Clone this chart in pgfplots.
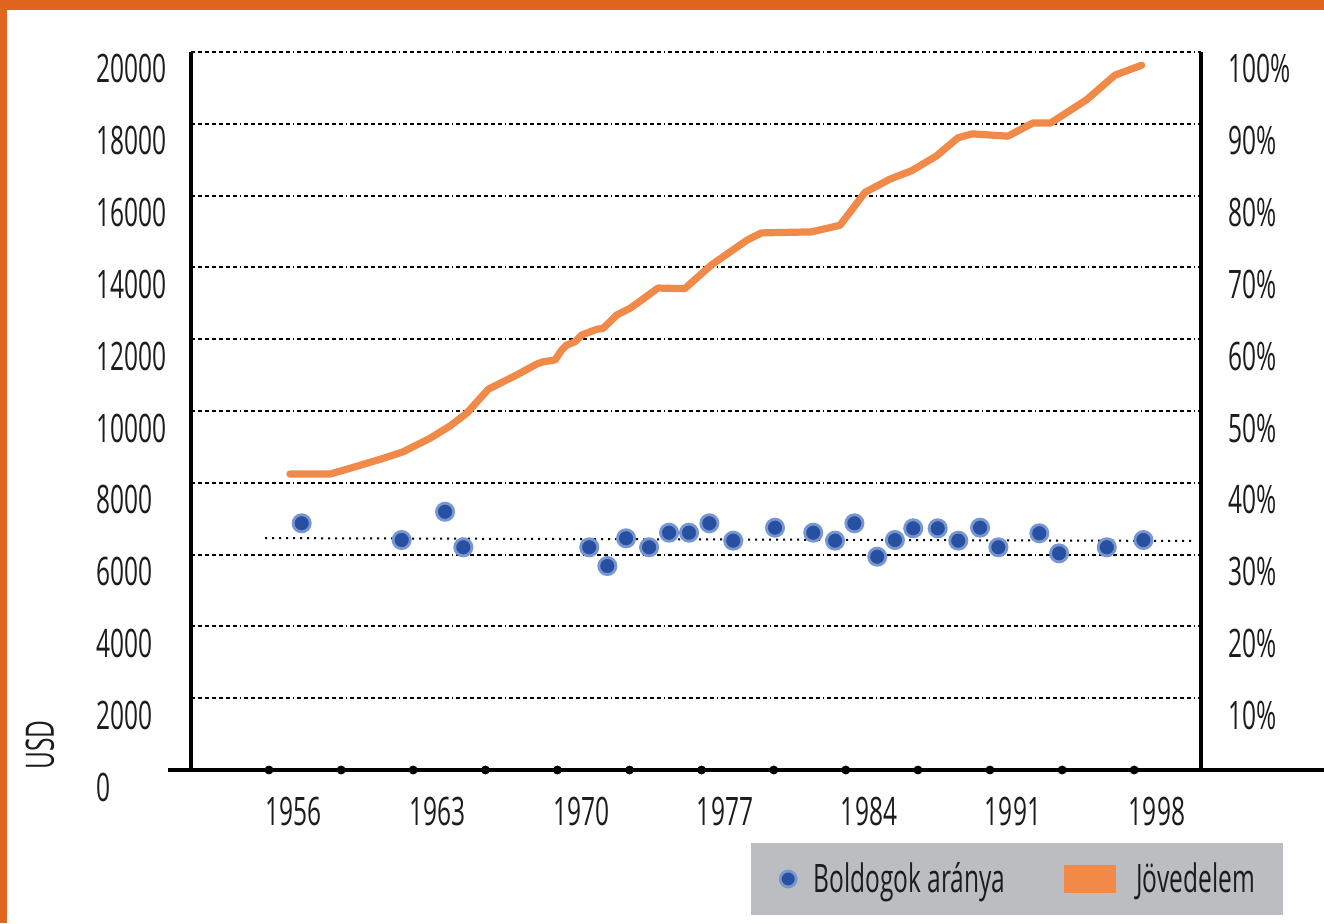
\documentclass[border=0pt]{standalone}
\usepackage{fontspec}
\setmainfont{Open Sans}[FakeStretch=0.625]
\usepackage{pgfplots}
\pgfplotsset{compat=1.18}
\definecolor{frameorange}{RGB}{224,102,32}
\definecolor{incomeorange}{RGB}{241,137,72}
\definecolor{dotdark}{RGB}{40,80,160}
\definecolor{dotring}{RGB}{120,150,210}
\definecolor{legendgray}{RGB}{188,189,193}
\definecolor{txt}{RGB}{28,28,28}
\newcommand\chartfont{\fontsize{19.6pt}{23pt}\selectfont}
\tikzset{gridpat/.style={black, line width=1pt,
  dash pattern=on 2.2pt off 1.3pt on 2.2pt off 1.3pt on 2.2pt off 1.3pt on 2.2pt off 1.3pt on 2.2pt off 1.3pt on 2.2pt off 1.3pt on 2.2pt off 1.3pt on 0.7pt off 1.3pt}}
\pgfplotsset{
  dotlegend/.style={legend image code/.code={\draw[dotring, fill=dotdark, line width=1.4pt] (0pt,0pt) circle (4pt);}},
  barlegend/.style={legend image code/.code={\fill[incomeorange] (0pt,-6.75pt) rectangle (25.5pt,6.75pt); \path (28pt,0pt);}}
}
\begin{document}
\begin{tikzpicture}
\fill[white] (0,0) rectangle (662pt,461.5pt);
\fill[frameorange] (0,456.5pt) rectangle (662pt,461.5pt);
\fill[frameorange] (0,0) rectangle (3.6pt,461.5pt);
\begin{axis}[
  at={(95.5pt,76.5pt)}, anchor=south west,
  scale only axis, width=505pt, height=359pt,
  xmin=1951.04, xmax=2000.14, ymin=0, ymax=20000,
  axis x line*=bottom, axis y line*=left,
  x axis line style={-, line width=2pt, shorten <=-11.5pt, shorten >=-61.5pt},
  y axis line style={-, line width=2pt},
  xtick={1956,1963,1970,1977,1984,1991,1998},
  ytick={0,2000,...,20000},
  major tick length=0pt,
  ymajorgrids, major grid style={gridpat},
  scaled y ticks=false, scaled x ticks=false,
  tick label style={font=\chartfont, text=txt},
  xticklabel style={anchor=base, inner sep=0pt, yshift=-27.5pt},
  yticklabel style={anchor=base west, inner sep=0pt, xshift=-47.5pt, yshift=-15.5pt},
  ylabel={USD},
  ylabel style={at={(axis description cs:-0.1495,0.0348)}, anchor=center, font=\chartfont, text=txt},
  clip=false,
  /pgf/number format/.cd, 1000 sep={}, assume math mode=true
]
\addplot[incomeorange, line width=3.6pt, line join=round, line cap=round] coordinates {
 (1955.85,8245) (1957.80,8245) (1958.77,8404) (1960.39,8682) (1961.36,8866)
 (1962.66,9240) (1963.63,9582) (1964.44,9936) (1965.49,10605) (1965.90,10724)
 (1966.87,11003) (1967.85,11309) (1968.17,11373) (1968.74,11421) (1969.06,11699)
 (1969.31,11838) (1969.71,11930) (1970.03,12117) (1970.76,12276) (1971.08,12304)
 (1971.74,12675) (1972.38,12861) (1972.87,13057) (1973.74,13425) (1975.04,13407)
 (1976.34,14069) (1978.07,14759) (1978.77,14961) (1981.20,14989) (1982.59,15173)
 (1983.81,16092) (1985.02,16460) (1986.06,16690) (1987.28,17104) (1988.32,17609)
 (1989.01,17720) (1990.75,17655) (1991.97,18023) (1992.83,18023) (1994.57,18667)
 (1995.96,19356) (1997.26,19632)
};
\addplot[only marks, mark=*, mark size=2pt, black] coordinates {
 (1954.83,0) (1958.34,0) (1961.84,0) (1965.35,0) (1968.85,0) (1972.36,0) (1975.86,0)
 (1979.37,0) (1982.87,0) (1986.38,0) (1989.88,0) (1993.39,0) (1996.89,0)
};
\end{axis}
\begin{axis}[
  at={(95.5pt,76.5pt)}, anchor=south west,
  scale only axis, width=505pt, height=359pt,
  xmin=1951.04, xmax=2000.14, ymin=0, ymax=100,
  axis x line=none, axis y line*=right,
  y axis line style={-, line width=2pt},
  ytick={10,20,...,100},
  yticklabel={\pgfmathprintnumber{\tick}\%},
  major tick length=0pt,
  tick label style={font=\chartfont, text=txt},
  yticklabel style={anchor=base west, inner sep=0pt, xshift=13.5pt, yshift=-15.5pt},
  legend columns=2,
  legend style={at={(0.8178,-0.1518)}, anchor=center, fill=legendgray, draw=none,
    font=\chartfont, text=txt, inner xsep=14pt, inner ysep=9.5pt,
    nodes={inner sep=0pt},
    /tikz/every odd column/.append style={column sep=8pt},
    /tikz/every even column/.append style={column sep=29pt}},
  legend cell align=left,
  clip=false,
  /pgf/number format/.cd, 1000 sep={}, assume math mode=true
]
\addplot[black, line width=1pt, dash pattern=on 1pt off 2.5pt, forget plot] coordinates {(1954.64,32.3) (1999.85,31.9)};
\addplot[only marks, mark=*, mark size=4.3pt, mark options={fill=dotdark, draw=dotring, line width=1.4pt}, dotlegend] coordinates {
 (1956.42,34.36) (1961.28,32.03) (1963.39,35.97) (1964.28,31.02) (1970.40,31.02)
 (1971.28,28.41) (1972.19,32.27) (1973.31,31.02) (1974.28,33.05) (1975.25,33.05)
 (1976.24,34.36) (1977.40,31.94) (1979.43,33.75) (1981.29,33.05) (1982.35,31.94)
 (1983.29,34.36) (1984.40,29.71) (1985.26,32.03) (1986.15,33.66) (1987.34,33.66)
 (1988.34,31.94) (1989.40,33.75) (1990.29,31.02) (1992.28,32.97) (1993.24,30.18)
 (1995.56,31.02) (1997.34,32.03)
};
\addlegendentry{Boldogok aránya}
\addlegendimage{barlegend}
\addlegendentry{Jövedelem}
\end{axis}
\pgfresetboundingbox
\path[use as bounding box] (0,0) rectangle (662pt,461.5pt);
\end{tikzpicture}
\end{document}
